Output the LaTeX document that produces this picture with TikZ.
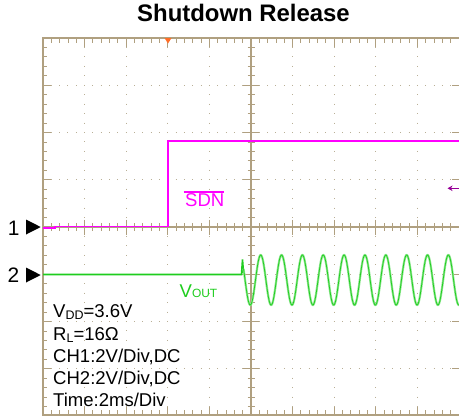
\documentclass[tikz,border=0pt]{standalone}
\usepackage{fontspec}
\setmainfont{Liberation Sans}
\usetikzlibrary{arrows.meta}
\definecolor{gridc}{RGB}{176,160,128}
\definecolor{dotc}{RGB}{185,175,150}
\definecolor{magc}{RGB}{255,0,255}
\definecolor{grc}{RGB}{30,205,30}
\definecolor{grl}{RGB}{140,230,140}
\definecolor{purc}{RGB}{150,0,150}
\definecolor{trigc}{RGB}{255,110,40}
\tikzset{
  frameline/.style={gridc, line width=1.2bp},
  tickline/.style={gridc, line width=0.9bp},
  dotline/.style={dotc, line width=1.1bp},
  traceone/.style={magc, line width=1.8bp},
  lbl/.style={inner sep=0pt, font=\fontsize{18.6}{18.6}\selectfont},
  mrk/.style={inner sep=0pt, font=\fontsize{21}{21}\selectfont},
}
\begin{document}
\begin{tikzpicture}[x=1bp,y=-1bp]
\useasboundingbox (0,0) rectangle (459,419);
% dotted grid
\foreach \i in {1,2,3,4,6,7,8,9}
  \draw[dotline, dash pattern=on 1bp off 8.45bp, dash phase=0.5bp] ({43+41.6*\i},38) -- ({43+41.6*\i},415);
\foreach \j in {1,2,3,5,6,7}
  \draw[dotline, dash pattern=on 1bp off 7.32bp, dash phase=0.5bp] (43,{38+47.25*\j}) -- (459,{38+47.25*\j});
% frame and centre lines
\draw[frameline] (459,38) -- (43,38) -- (43,415) -- (459,415);
\draw[frameline] (251,38) -- (251,415);
\draw[frameline] (43,227) -- (459,227);
% ticks along x
\foreach \k in {1,...,49}{
  \pgfmathsetmacro{\xx}{43+8.32*\k}
  \pgfmathtruncatemacro{\mm}{mod(\k,5)}
  \ifnum\mm=0
    \draw[tickline] (\xx,38) -- (\xx,46.5);
    \draw[tickline] (\xx,415) -- (\xx,406.5);
    \draw[tickline] (\xx,219.5) -- (\xx,234.5);
  \else
    \draw[tickline] (\xx,38) -- (\xx,43);
    \draw[tickline] (\xx,415) -- (\xx,410);
    \draw[tickline] (\xx,223) -- (\xx,231);
  \fi
}
% ticks along y
\foreach \k in {1,...,39}{
  \pgfmathsetmacro{\yy}{38+9.45*\k}
  \pgfmathtruncatemacro{\mm}{mod(\k,5)}
  \ifnum\mm=0
    \draw[tickline] (43,\yy) -- (51,\yy);
    \draw[tickline] (243,\yy) -- (259,\yy);
    \draw[tickline] (459,\yy) -- (452,\yy);
  \else
    \draw[tickline] (43,\yy) -- (47,\yy);
    \draw[tickline] (247.5,\yy) -- (254.5,\yy);
  \fi
}
% trigger marker
\fill[trigc] (164.5,38) -- (171.5,38) -- (168,43.5) -- cycle;
% channel 1 trace
\draw[traceone] (43,228.3) -- (55,228.3) -- (55,226.5) -- (168,226.5) -- (168,141.2);
\draw[traceone] (167.1,141.2) -- (459,141.2);
% channel 2 trace
\draw[grc, line width=1.6bp] (43,274.5) -- (241.5,274.5) -- (242.5,259.5) -- (243.5,273);
\draw[grl, line width=2.2bp] plot[domain=243.5:459, samples=500] (\x,{280-25*cos(17.2662*(\x-260.7))});
\draw[grc, line width=0.7bp] plot[domain=243.5:459, samples=500] (\x,{280-25*cos(17.2662*(\x-260.7))});
% offset arrow
\draw[purc, line width=1.3bp, -{Stealth[length=5bp,width=5.5bp]}] (459,188.3) -- (447.5,188.3);
% channel markers
\node[mrk, anchor=base west] (m1) at (7.7,235) {1};
\node[mrk, anchor=base west] (m2) at (7.5,282.7) {2};
\fill (26,219.5) -- (40.7,227) -- (26,234.5) -- cycle;
\fill (26,267.5) -- (40.7,275) -- (26,282.5) -- cycle;
% title
\node[inner sep=0pt, anchor=base, font=\fontsize{24}{24}\selectfont\bfseries] (title) at (243.5,21.7) {Shutdown Release};
% trace labels
\node[lbl, anchor=base west, text=magc] (sdn) at (185,206.7) {SDN};
\draw[magc, line width=1.4bp] (sdn.north west) ++(-1.5,-1.5) -- ++(40,0);
\node[lbl, anchor=base west, text=grc] (vout) at (179.5,297.7) {V{\fontsize{12}{12}\selectfont OUT}};
% settings text
\node[lbl, anchor=base west] (t1) at (53,317.7) {V\raisebox{-2bp}{\fontsize{12.5}{12.5}\selectfont DD}=3.6V};
\node[lbl, anchor=base west] (t2) at (53,340) {R\raisebox{-2bp}{\fontsize{12.5}{12.5}\selectfont L}=16Ω};
\node[lbl, anchor=base west] (t3) at (53,362.3) {CH1:2V/Div,DC};
\node[lbl, anchor=base west] (t4) at (53,384.3) {CH2:2V/Div,DC};
\node[lbl, anchor=base west] (t5) at (53,406.7) {Time:2ms/Div};
\end{tikzpicture}
\end{document}
